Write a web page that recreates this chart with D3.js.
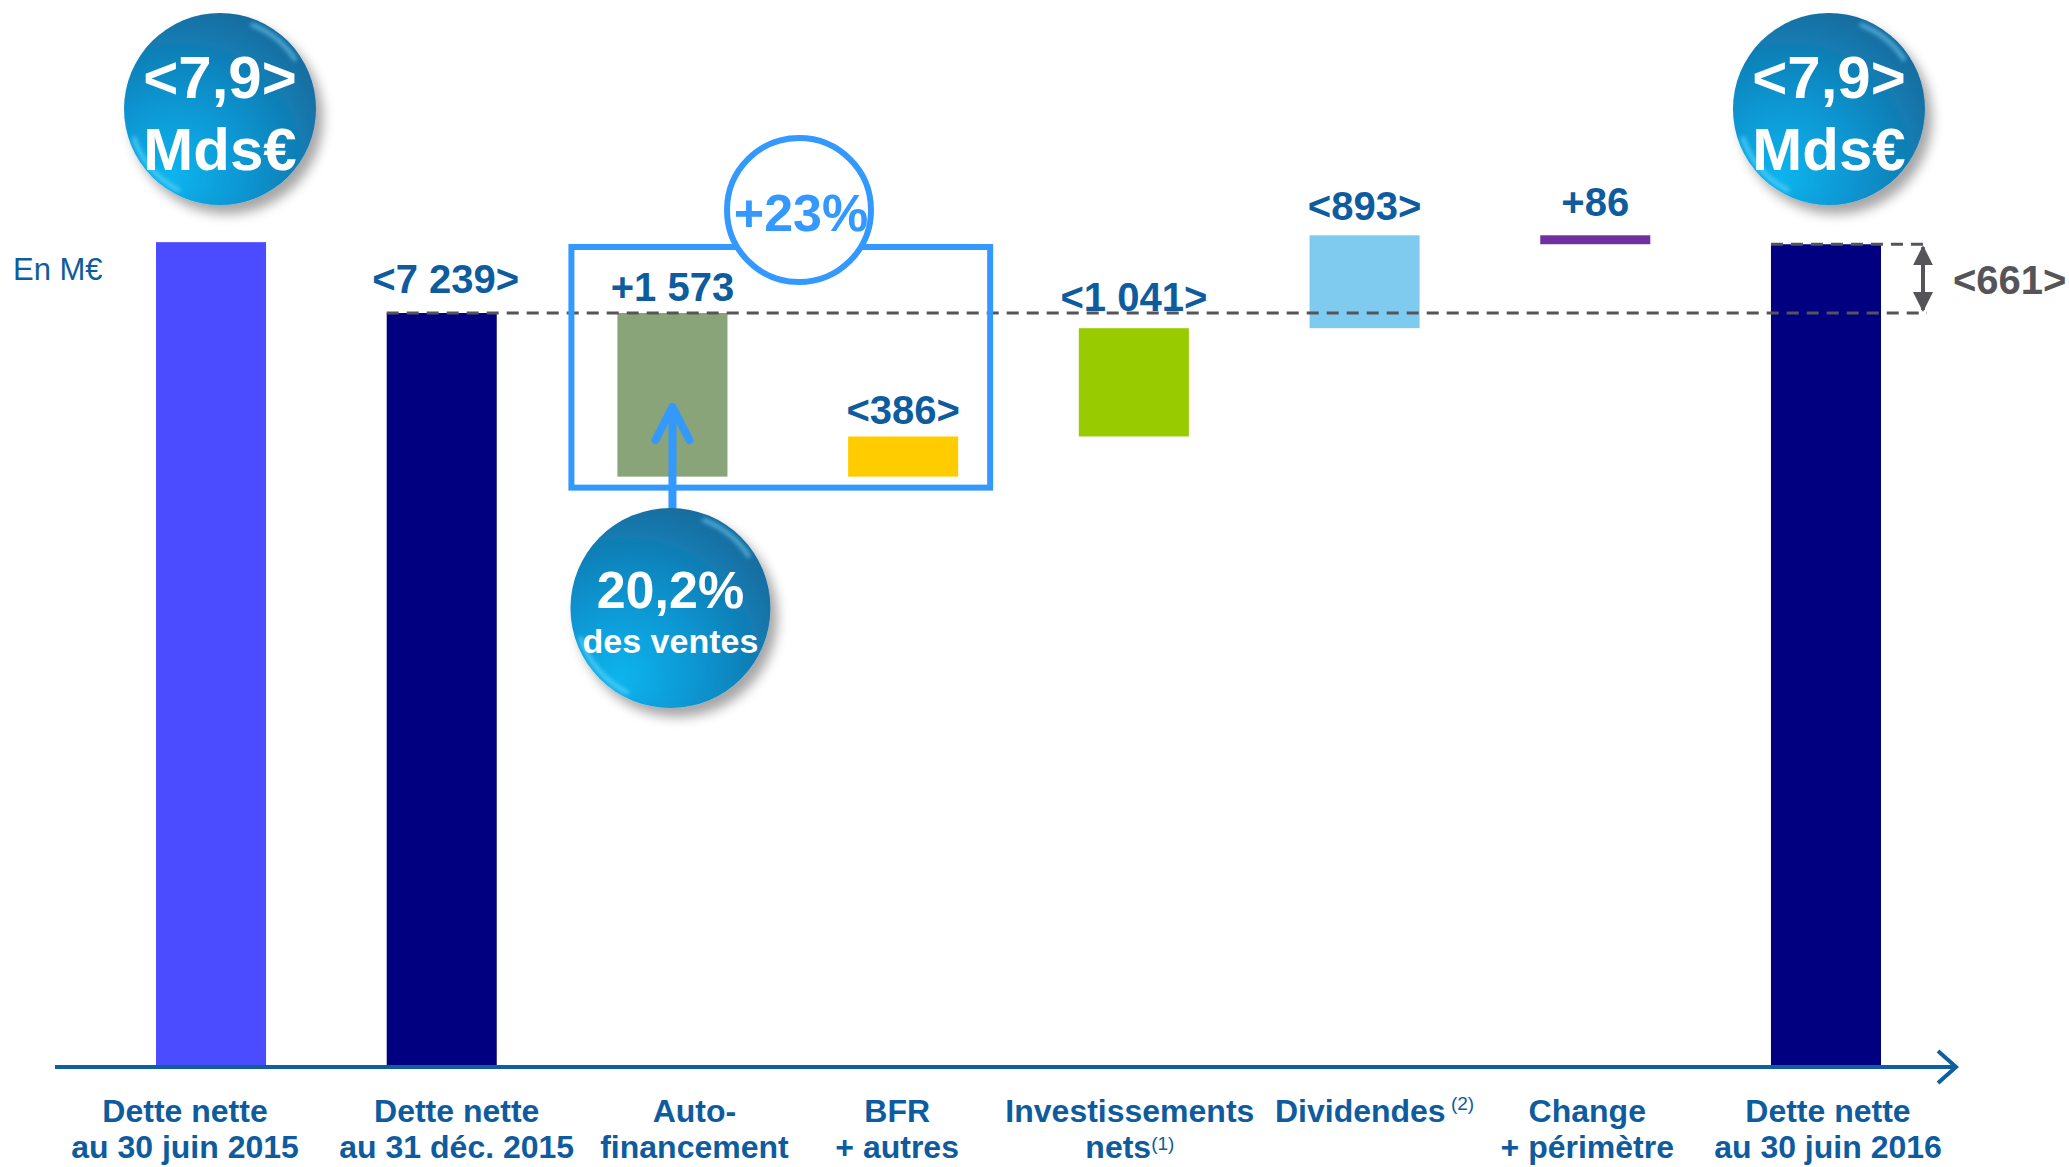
<!DOCTYPE html>
<html>
<head>
<meta charset="utf-8">
<script src="https://cdn.jsdelivr.net/npm/d3@7"></script>
<style>
  body { margin: 0; background: #fff; }
  svg { display: block; font-family: "Liberation Sans", Arial, sans-serif; }
</style>
</head>
<body>
<svg id="svg" width="2069" height="1167"></svg>
<script>

// ---- data (M€) ----
var categories = ["d2015", "d2015b", "autofin", "bfr", "invest", "divid", "change", "d2016"]
var catLine1 = ["Dette nette", "Dette nette", "Auto-", "BFR", "Investissements", "Dividendes", "Change", "Dette nette"]
var catLine2 = ["au 30 juin 2015", "au 31 déc. 2015", "financement", "+ autres", "nets", "", "+ périmètre", "au 30 juin 2016"]
var catNote1 = ["", "", "", "", "", " (2)", "", ""]
var catNote2 = ["", "", "", "", "(1)", "", "", ""]
var kinds = ["total", "total", "delta", "delta", "delta", "delta", "delta", "total"]
var values = [7920, 7239, 1573, -386, -1041, -893, 86, 7900]
var showValue = [false, true, true, true, true, true, true, false]
var bubbleTop = ["<7,9>", "Mds€"]
var bubbleSales = ["20,2%", "des ventes"]
var growthLabel = "+23%"
var unitLabel = "En M€"

// ---- styles / layout ----
var barColors = ["#4b4bff", "#000080", "#88a478", "#ffcc00", "#99cc00", "#7fcbf0", "#7030a0", "#000080"]
var labelGap = [0, 20, 12, 12, 17, 15, 19, 0]
var catShift = [-26, 15, 22, -6, -4, 10, -8, 2]
var blue = "#0e5c9e", grey = "#555559", accent = "#3399ff"

var svg = d3.select("#svg")
var W = 2069, H = 1167

var x = d3.scaleBand().domain(categories).range([156, 1881]).paddingInner(0.523).paddingOuter(0)
var y = d3.scaleLinear().domain([0, 7239]).range([1066, 313])

var fr = d3.formatLocale({decimal: ",", thousands: " ", grouping: [3], currency: ["", "€"]})
var fmt = fr.format(",d")
function valueText(v, k) {
  if (k == "total") return "<" + fmt(v) + ">"
  return v >= 0 ? "+" + fmt(v) : "<" + fmt(-v) + ">"
}

// waterfall steps
var level = 0
var bars = values.map(function(v, i) {
  var b
  if (kinds[i] == "total") { b = {i: i, a: 0, b: v}; level = v }
  else { b = {i: i, a: level, b: level - v}; level = level - v }
  return b
})

// defs
var defs = svg.append("defs")
var rg = defs.append("radialGradient").attr("id", "ball")
  .attr("cx", "0.3").attr("cy", "0.78").attr("r", "0.85").attr("fx", "0.25").attr("fy", "0.85")
rg.append("stop").attr("offset", "0").attr("stop-color", "#0fb4ee")
rg.append("stop").attr("offset", "0.45").attr("stop-color", "#0b94d0")
rg.append("stop").attr("offset", "1").attr("stop-color", "#176a9c")
var sh = defs.append("filter").attr("id", "shadow").attr("x", "-30%").attr("y", "-30%").attr("width", "170%").attr("height", "170%")
sh.append("feDropShadow").attr("dx", 7).attr("dy", 9).attr("stdDeviation", 6)
  .attr("flood-color", "#000").attr("flood-opacity", 0.35)
var gl = defs.append("filter").attr("id", "glow")
gl.append("feGaussianBlur").attr("stdDeviation", 2)
defs.append("marker").attr("id", "tri").attr("viewBox", "0 0 10 10").attr("refX", 9).attr("refY", 5)
  .attr("markerWidth", 5).attr("markerHeight", 5).attr("orient", "auto-start-reverse")
  .append("path").attr("d", "M0,0L10,5L0,10z").attr("fill", grey)

// bars
svg.append("g").selectAll("rect").data(bars).enter().append("rect")
  .attr("x", d => x(categories[d.i]))
  .attr("width", x.bandwidth())
  .attr("y", d => y(Math.max(d.a, d.b)))
  .attr("height", d => Math.abs(y(d.a) - y(d.b)))
  .attr("fill", d => barColors[d.i])

// reference dashed lines
var dash = svg.append("g").attr("stroke", grey).attr("stroke-width", 3).attr("stroke-dasharray", "12,8").attr("fill", "none")
var xEnd = 1927
dash.append("line").attr("x1", x(categories[1])).attr("x2", xEnd).attr("y1", y(values[1])).attr("y2", y(values[1]))
dash.append("line").attr("x1", x(categories[7])).attr("x2", xEnd).attr("y1", y(values[7])).attr("y2", y(values[7]))

// <661> double arrow
svg.append("line").attr("x1", 1923).attr("x2", 1923)
  .attr("y1", y(values[7]) + 3).attr("y2", y(values[1]) - 3)
  .attr("stroke", grey).attr("stroke-width", 4)
  .attr("marker-start", "url(#tri)").attr("marker-end", "url(#tri)")
svg.append("text").attr("x", 1953).attr("y", (y(values[7]) + y(values[1])) / 2 + 15)
  .attr("font-size", 40).attr("font-weight", "bold").attr("fill", grey)
  .text("<" + fmt(values[7] - values[1]) + ">")

// value labels
svg.append("g").selectAll("text").data(bars.filter(d => showValue[d.i])).enter().append("text")
  .attr("x", d => x(categories[d.i]) + x.bandwidth() / 2 + (d.i == 1 ? 4 : 0))
  .attr("y", d => y(Math.max(d.a, d.b)) - labelGap[d.i])
  .attr("text-anchor", "middle").attr("font-size", 40).attr("font-weight", "bold").attr("fill", blue)
  .text(d => valueText(values[d.i], kinds[d.i]))

svg.append("text").attr("x", 13).attr("y", 280).attr("font-size", 31).attr("fill", blue).text(unitLabel)

// axis
var ax = svg.append("g").attr("transform", "translate(0," + y(0) + ")")
  .call(d3.axisBottom(x).tickSize(0).tickFormat(""))
ax.select(".domain").remove()
ax.selectAll(".tick text").remove()
ax.append("line").attr("x1", 55).attr("x2", 1955).attr("y1", 1).attr("y2", 1)
  .attr("stroke", "#0f5fa0").attr("stroke-width", 4)
ax.append("path").attr("d", "M1938,-15L1956,1L1938,17").attr("fill", "none")
  .attr("stroke", "#0f5fa0").attr("stroke-width", 4)
ax.selectAll(".tick").each(function(c, i) {
  var t = d3.select(this).append("text")
    .attr("x", catShift[i]).attr("text-anchor", "middle")
    .attr("font-size", 32).attr("font-weight", "bold").attr("fill", blue)
  var l1 = t.append("tspan").attr("x", catShift[i]).attr("y", 56).text(catLine1[i])
  if (catNote1[i]) l1.append("tspan").attr("font-size", 19).attr("font-weight", "normal").attr("dy", -12).text(catNote1[i])
  var l2 = t.append("tspan").attr("x", catShift[i]).attr("y", 92).text(catLine2[i])
  if (catNote2[i]) l2.append("tspan").attr("font-size", 19).attr("font-weight", "normal").attr("dy", -8).text(catNote2[i])
})

// blue box around auto-financement + BFR
var bx0 = x(categories[2]) - 46, bx1 = x(categories[3]) + x.bandwidth() + 32
var by0 = y(values[1]) - 66, by1 = y(values[1] - values[2]) + 11
svg.append("rect").attr("x", bx0).attr("y", by0).attr("width", bx1 - bx0).attr("height", by1 - by0)
  .attr("fill", "none").attr("stroke", accent).attr("stroke-width", 6)
svg.append("circle").attr("cx", 799).attr("cy", 210).attr("r", 72)
  .attr("fill", "#fff").attr("stroke", accent).attr("stroke-width", 6)
svg.append("text").attr("x", 801).attr("y", 231).attr("text-anchor", "middle")
  .attr("font-size", 52).attr("font-weight", "bold").attr("fill", accent).text(growthLabel)

// arrow from sales bubble to the auto-financement bar
var ax3 = x(categories[2]) + x.bandwidth() / 2
svg.append("path").attr("d", "M" + ax3 + ",520L" + ax3 + ",410")
  .attr("stroke", accent).attr("stroke-width", 8).attr("fill", "none")
svg.append("path").attr("d", "M" + (ax3 - 17) + ",440L" + ax3 + ",407L" + (ax3 + 17) + ",440")
  .attr("stroke", accent).attr("stroke-width", 8).attr("fill", "none")
  .attr("stroke-linecap", "round").attr("stroke-linejoin", "round")

// glossy bubbles
function bubble(cx, cy, r, lines, sizes, base) {
  var g = svg.append("g")
  g.append("circle").attr("cx", cx).attr("cy", cy).attr("r", r).attr("fill", "url(#ball)").attr("filter", "url(#shadow)")
  g.append("path")
    .attr("d", d3.arc()({innerRadius: r - 7, outerRadius: r - 3, startAngle: 3.6, endAngle: 4.4}))
    .attr("transform", "translate(" + cx + "," + cy + ")")
    .attr("fill", "#5fd8ff").attr("opacity", 0.8).attr("filter", "url(#glow)")
  g.append("path")
    .attr("d", d3.arc()({innerRadius: r - 8, outerRadius: r - 4, startAngle: 0.35, endAngle: 1.0}))
    .attr("transform", "translate(" + cx + "," + cy + ")")
    .attr("fill", "#6fd0f5").attr("opacity", 0.7).attr("filter", "url(#glow)")
  lines.forEach(function(s, k) {
    g.append("text").attr("x", cx).attr("y", cy + base[k]).attr("text-anchor", "middle")
      .attr("font-size", sizes[k]).attr("font-weight", "bold").attr("fill", "#fff").text(s)
  })
}
bubble(x(categories[0]) + x.bandwidth() / 2 + 9, 109, 96, bubbleTop, [60, 60], [-11, 61])
bubble(x(categories[7]) + x.bandwidth() / 2 + 3, 109, 96, bubbleTop, [60, 60], [-11, 61])
bubble(ax3 - 2, 608, 100, bubbleSales, [52, 34], [0, 45])

</script>
</body>
</html>
